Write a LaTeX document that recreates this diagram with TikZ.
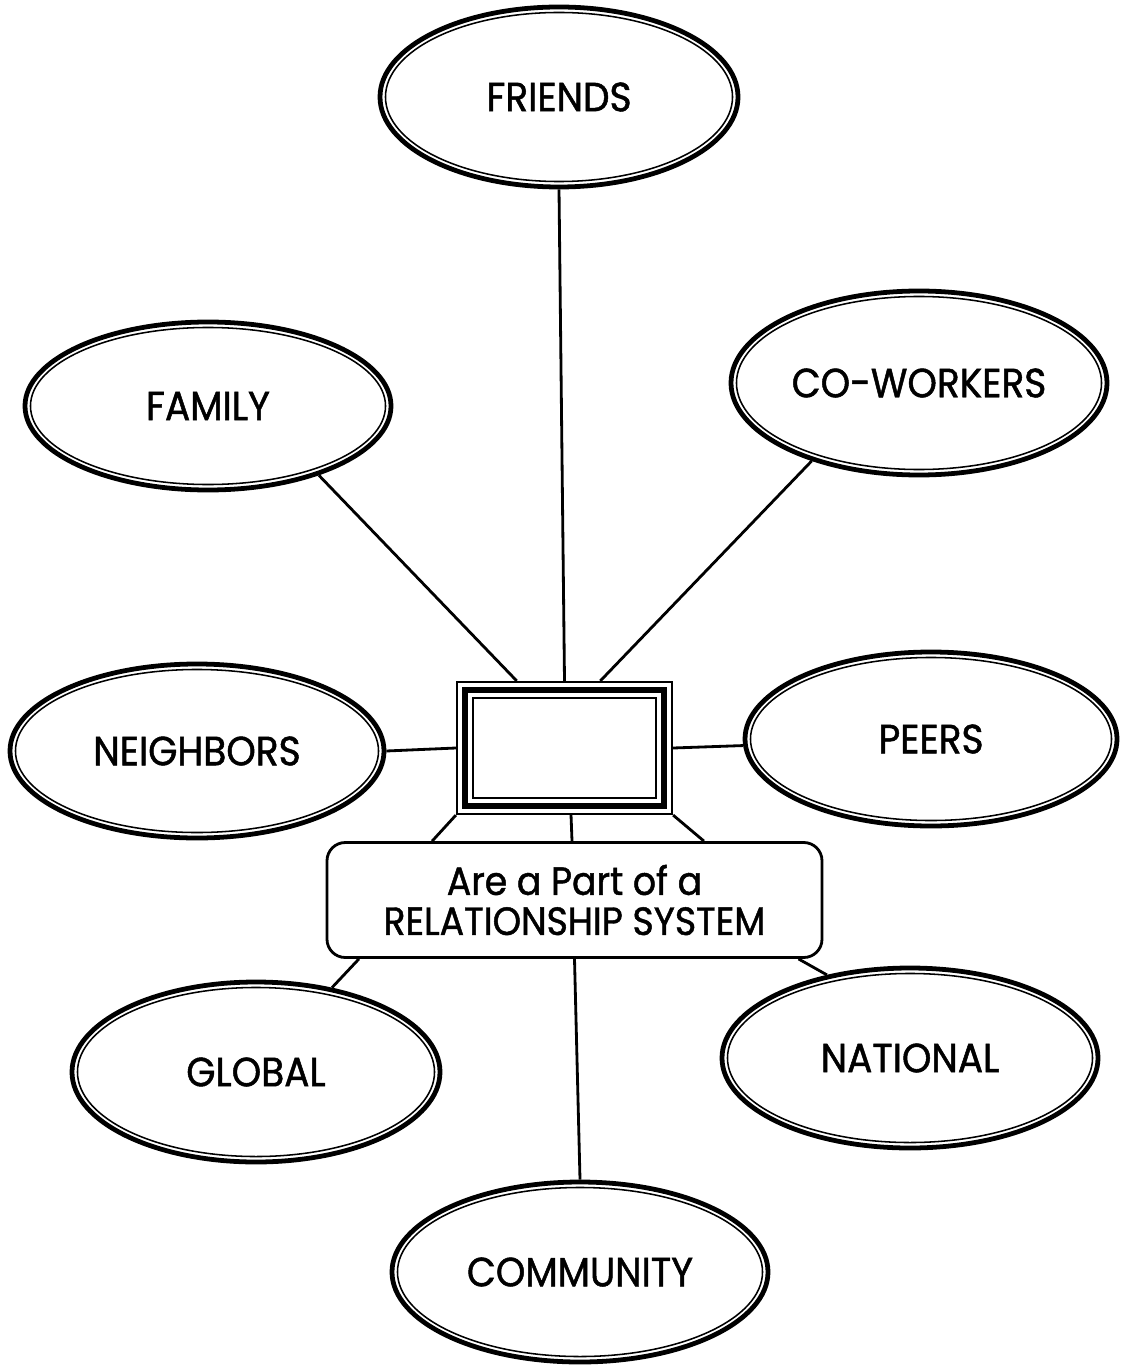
\documentclass[tikz,border=0pt]{standalone}
\usepackage{fontspec}
\setmainfont{Poppins}[FakeStretch=0.92,FakeBold=1.2]
\usetikzlibrary{calc,shapes.geometric}
\newdimen\unitpx
\unitpx=0.025cm

\begin{document}
\begin{tikzpicture}[x=0.025cm,y=-0.025cm,
  % oval with a heavy outer line and a thin inner line
  ring/.style={ellipse, draw, line width=3.4pt, inner sep=0pt,
    font=\fontsize{29}{31}\selectfont,
    path picture={\draw[line width=1.1pt]
      let \p1=($(path picture bounding box.north east)-(path picture bounding box.center)$)
      in (path picture bounding box.center) ellipse [x radius=\x1-3.9pt, y radius=\y1-3.9pt];}},
  % central frame: thin, heavy, thin
  hubbox/.style={rectangle, draw, line width=1.6pt, inner sep=0pt,
    minimum width=215\unitpx, minimum height=132\unitpx,
    path picture={
      \draw[line width=4.6pt]
        ([xshift=5.7pt,yshift=-5.7pt]path picture bounding box.north west) rectangle
        ([xshift=-5.7pt,yshift=5.7pt]path picture bounding box.south east);
      \draw[line width=1.6pt]
        ([xshift=11.4pt,yshift=-11.4pt]path picture bounding box.north west) rectangle
        ([xshift=-11.4pt,yshift=11.4pt]path picture bounding box.south east);}},
  caption/.style={rectangle, rounded corners=13pt, draw, line width=2pt,
    minimum width=495\unitpx, minimum height=115\unitpx, align=center,
    font=\fontsize{28}{28.5}\selectfont},
  link/.style={line width=2pt}
]
\useasboundingbox (0,0) rectangle (1122,1365);

% ovals
\node[ring, minimum width=358\unitpx, minimum height=180\unitpx] (friends)   at (559,97)   {FRIENDS};
\node[ring, minimum width=366\unitpx, minimum height=168\unitpx] (family)    at (208,406)  {FAMILY};
\node[ring, minimum width=376\unitpx, minimum height=184\unitpx] (coworkers) at (919,383)  {CO-WORKERS};
\node[ring, minimum width=374\unitpx, minimum height=174\unitpx] (neighbors) at (197,751)  {NEIGHBORS};
\node[ring, minimum width=372\unitpx, minimum height=174\unitpx] (peers)     at (931,739)  {PEERS};
\node[ring, minimum width=368\unitpx, minimum height=180\unitpx] (global)    at (256,1072) {GLOBAL};
\node[ring, minimum width=376\unitpx, minimum height=180\unitpx] (national)  at (910,1058) {NATIONAL};
\node[ring, minimum width=376\unitpx, minimum height=180\unitpx] (community) at (580,1272) {COMMUNITY};

% centre frame and caption
\node[hubbox] (hub) at (564.5,748) {};
\node[caption] (system) at (574.5,900) {Are a Part of a\\RELATIONSHIP SYSTEM};

% spokes into the frame
\draw[link] (friends.south) -- (hub.north);
\draw[link] (family.-32) -- ($(hub.north west)!0.28!(hub.north east)$);
\draw[link] (coworkers.216) -- ($(hub.north west)!0.665!(hub.north east)$);
\draw[link] (neighbors.east) -- (hub.west);
\draw[link] (hub.east) -- (peers.182);

% frame to caption
\draw[link] (hub.south west) -- ($(system.north west)!0.214!(system.north east)$);
\draw[link] ($(hub.south west)!0.53!(hub.south east)$) -- ($(system.north west)!0.495!(system.north east)$);
\draw[link] (hub.south east) -- ($(system.north west)!0.76!(system.north east)$);

% caption to lower ovals
\draw[link] ($(system.south west)!0.067!(system.south east)$) -- (global.48);
\draw[link] (system.south) -- (community.north);
\draw[link] ($(system.south west)!0.95!(system.south east)$) -- (national.135);
\end{tikzpicture}
\end{document}
